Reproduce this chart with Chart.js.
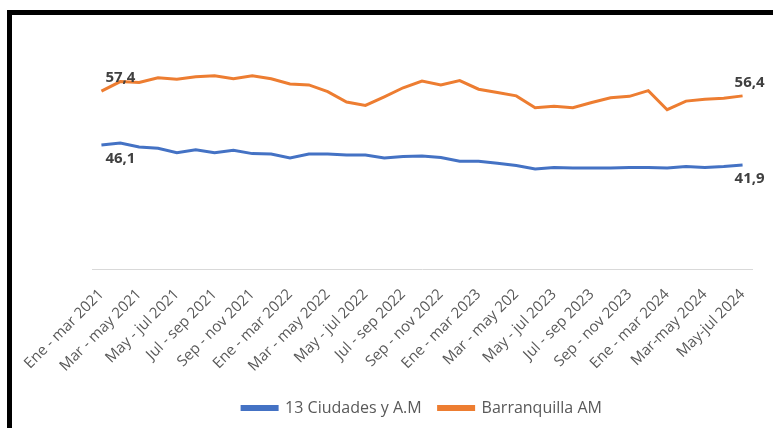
<!DOCTYPE html>
<html>
<head>
<meta charset="utf-8">
<script src="https://cdn.jsdelivr.net/npm/chart.js@4"></script>
<style>
  html, body { margin: 0; padding: 0; background: #fff; overflow: hidden; }
  #frame {
    position: absolute; left: 7px; top: 10px;
    width: 800px; height: 460px;
    border: 5px solid #000;
  }
  #wrap { position: absolute; left: 0; top: 0; width: 773px; height: 428px; }
</style>
</head>
<body>
<div id="frame"></div>
<div id="wrap"><canvas id="chart"></canvas></div>
<script>
// -------------------------------
// Data
// -------------------------------
const periods = [
  "Ene - mar 2021", "Feb - abr 2021", "Mar - may 2021", "Abr - jun 2021", "May - jul 2021",
  "Jun - ago 2021", "Jul - sep 2021", "Ago - oct 2021", "Sep - nov 2021", "Oct - dic 2021",
  "Ene - mar 2022", "Feb - abr 2022", "Mar - may 2022", "Abr - jun 2022", "May - jul 2022",
  "Jun - ago 2022", "Jul - sep 2022", "Ago - oct 2022", "Sep - nov 2022", "Oct - dic 2022",
  "Ene - mar 2023", "Feb - abr 2023", "Mar - may 202", "Abr - jun 2023", "May - jul 2023",
  "Jun - ago 2023", "Jul - sep 2023", "Ago - oct 2023", "Sep - nov 2023", "Oct - dic 2023",
  "Ene - mar 2024", "Feb - abr 2024", "Mar-may 2024", "Abr-jun 2024", "May-jul 2024",
];

const ciudades13 = [
  46.1, 46.5, 45.7, 45.4, 44.5, 45.1, 44.5, 45.0, 44.3, 44.2,
  43.4, 44.2, 44.2, 44.0, 44.0, 43.4, 43.7, 43.8, 43.5, 42.7,
  42.7, 42.3, 41.8, 41.1, 41.4, 41.3, 41.3, 41.3, 41.4, 41.4,
  41.3, 41.6, 41.4, 41.6, 41.9,
];

const barranquilla = [
  57.4, 59.4, 59.2, 60.2, 59.9, 60.4, 60.6, 60.0, 60.6, 60.0,
  58.9, 58.7, 57.3, 55.1, 54.4, 56.2, 58.1, 59.5, 58.7, 59.6,
  57.8, 57.1, 56.4, 53.9, 54.2, 53.9, 55.0, 56.0, 56.3, 57.5,
  53.5, 55.3, 55.7, 55.9, 56.4,
];

// labels shown on the first and last point of each line
const labelIdx = [0, periods.length - 1];

// -------------------------------
// Point labels plugin
// -------------------------------
const pointLabels = {
  id: "pointLabels",
  afterDatasetsDraw(chart) {
    const ctx = chart.ctx;
    ctx.save();
    ctx.font = "bold 15px 'Open Sans'";
    ctx.fillStyle = "#404040";
    ctx.textAlign = "center";
    ctx.textBaseline = "middle";
    chart.data.datasets.forEach((ds, d) => {
      const meta = chart.getDatasetMeta(d);
      labelIdx.forEach((i) => {
        const pt = meta.data[i];
        const dx = i === 0 ? 19 : 7;
        const dy = ds.labelAbove ? -13 : 14;
        ctx.fillText(ds.data[i].toFixed(1).replace(".", ","), pt.x + dx, pt.y + dy);
      });
    });
    ctx.restore();
  },
};

// -------------------------------
// Chart
// -------------------------------
new Chart(document.getElementById("chart"), {
  type: "line",
  data: {
    labels: periods,
    datasets: [
      {
        label: "13 Ciudades y A.M",
        data: ciudades13,
        borderColor: "#4472C4",
        backgroundColor: "#4472C4",
        borderWidth: 3,
        pointRadius: 0,
        tension: 0,
        labelAbove: false,
      },
      {
        label: "Barranquilla AM",
        data: barranquilla,
        borderColor: "#ED7D31",
        backgroundColor: "#ED7D31",
        borderWidth: 3,
        pointRadius: 0,
        tension: 0,
        labelAbove: true,
      },
    ],
  },
  options: {
    responsive: true,
    maintainAspectRatio: false,
    animation: false,
    layout: { padding: { left: 92, right: 21, top: 31, bottom: 2 } },
    plugins: {
      tooltip: { enabled: false },
      legend: {
        position: "bottom",
        labels: {
          boxWidth: 35,
          boxHeight: 3,
          color: "#595959",
          font: { family: "'Open Sans'", size: 16 },
          padding: 17,
        },
      },
    },
    scales: {
      x: {
        offset: true,
        grid: { display: false },
        border: { display: true, color: "#d9d9d9", width: 1 },
        ticks: {
          autoSkip: false,
          minRotation: 45,
          maxRotation: 45,
          color: "#595959",
          font: { family: "'Open Sans'", size: 15 },
          padding: 8,
          callback: function (val, i) {
            return i % 2 === 0 ? this.getLabelForValue(val) : "";
          },
        },
      },
      y: {
        display: false,
        min: 20,
        max: 70,
      },
    },
  },
  plugins: [pointLabels],
});
</script>
</body>
</html>
